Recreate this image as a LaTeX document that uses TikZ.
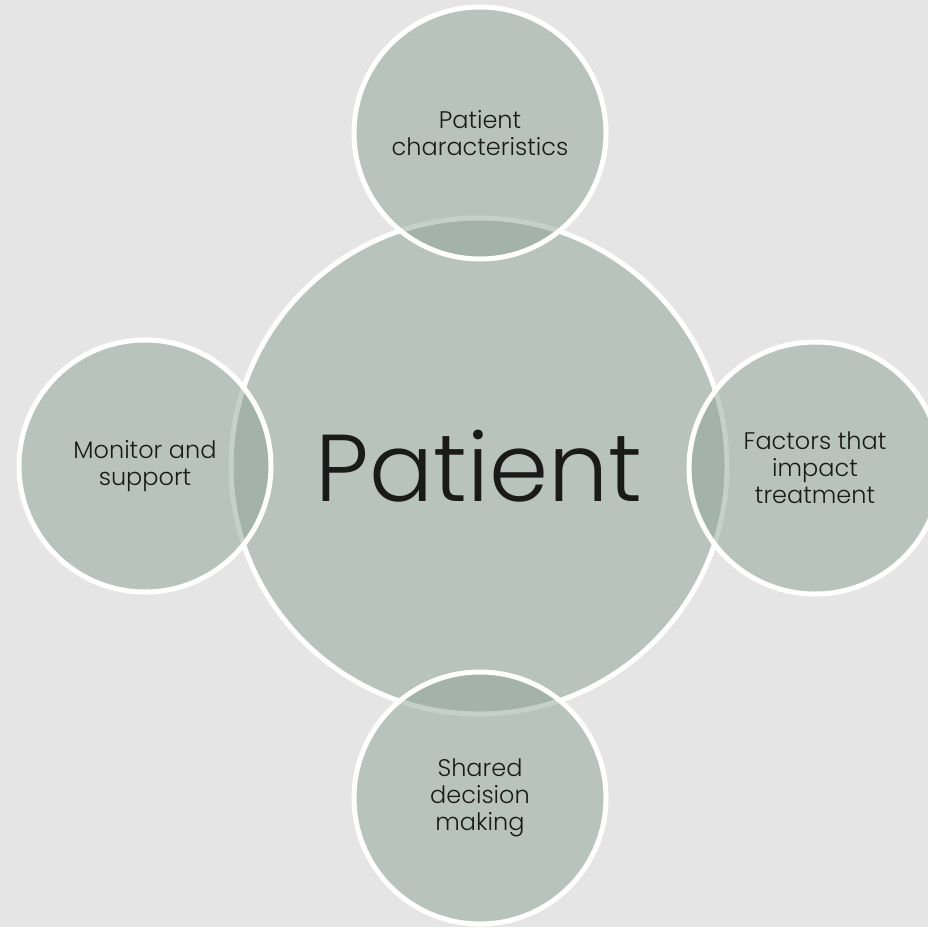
\documentclass[tikz,border=0pt]{standalone}
\usepackage{fontspec}
\setmainfont{Poppins Light}
\definecolor{pagebg}{RGB}{229,229,229}
\definecolor{disc}{RGB}{142,162,152}
\definecolor{ink}{RGB}{26,26,26}
\begin{document}
\begin{tikzpicture}[x=1pt,y=-1pt,
  disk/.style={circle, inner sep=0pt, fill=disc, fill opacity=0.5,
    text opacity=1, draw=white, line width=5pt, text=ink, align=center},
  hub/.style={disk, minimum size=496pt,
    font=\fontsize{95}{100}\selectfont},
  sat/.style={disk, minimum size=252pt,
    font=\fontsize{24}{27}\selectfont}]
  \useasboundingbox (0,0) rectangle (928,927);
  \fill[pagebg] (0,0) rectangle (928,927);

  % central circle
  \node[hub] (patient) at (479,466) {Patient};

  % surrounding circles, drawn over the centre
  \node[sat] (chars)   at (480,133) {Patient\\characteristics};
  \node[sat] (factors) at (815,468) {Factors that\\impact\\treatment};
  \node[sat] (shared)  at (480,798) {Shared\\decision\\making};
  \node[sat] (monitor) at (145,466) {Monitor and\\support};
\end{tikzpicture}
\end{document}
